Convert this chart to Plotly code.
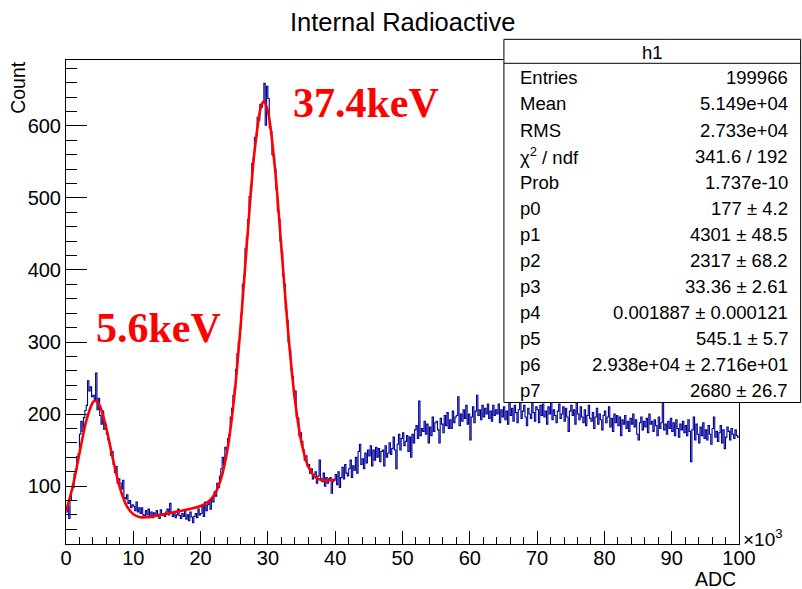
import plotly.graph_objects as go

# ---------------- data ----------------
bin_width = 200          # ADC per bin, 500 bins from 0 to 100000
x_min, x_max = 0, 100000

# histogram counts, 5 bins per 1000 ADC
counts = [
    64, 72, 55, 80, 94,      98, 117, 123, 141, 145,
    172, 190, 176, 195, 205, 212, 246, 232, 238, 224,
    226, 218, 257, 206, 222, 198, 186, 204, 179, 186,
    172, 164, 160, 143, 148, 130, 119, 127, 104, 110,
    104, 96, 108, 84, 82,    88, 76, 80, 70, 74,
    72, 66, 78, 64, 70,      62, 70, 60, 58, 66,
    60, 68, 57, 64, 56,      63, 58, 66, 61, 55,
    67, 60, 62, 58, 64,      68, 60, 76, 62, 58,
    64, 56, 60, 68, 59,      55, 62, 58, 66, 54,
    60, 52, 64, 57, 49,      58, 62, 56, 68, 60,
    62, 72, 58, 78, 66,      74, 80, 68, 84, 78,
    92, 86, 104, 98, 114,    124, 140, 130, 154, 150,
    166, 172, 196, 208, 226, 236, 262, 284, 300, 318,
    340, 380, 392, 430, 446, 470, 502, 516, 548, 555,
    584, 586, 612, 608, 630, 626, 632, 659, 601, 655,
    638, 597, 592, 560, 558, 540, 512, 482, 470, 440,
    424, 392, 380, 344, 330, 300, 288, 262, 252, 226,
    232, 196, 194, 170, 174, 162, 150, 136, 142, 128,
    130, 118, 124, 110, 116, 120, 104, 114, 136, 110,
    106, 118, 100, 112, 104, 110, 112, 90, 106, 108,
    116, 102, 120, 98, 112,  126, 110, 130, 118, 114,
    124, 136, 112, 128, 122, 140, 118, 148, 158, 130,
    138, 124, 146, 132, 150, 142, 156, 128, 150, 136,
    154, 140, 152, 134, 148, 150, 128, 156, 140, 146,
    160, 144, 152, 168, 150, 124, 158, 172, 150, 166,
    174, 156, 162, 170, 148, 168, 140, 172, 160, 178,
    184, 166, 218, 170, 180, 176, 190, 172, 186, 160,
    182, 170, 196, 176, 188, 190, 178, 160, 194, 186,
    174, 198, 184, 202, 180, 192, 180, 204, 188, 196,
    198, 224, 184, 200, 190, 206, 194, 212, 186, 200,
    164, 196, 210, 188, 204, 226, 198, 206, 192, 212,
    196, 208, 200, 214, 194, 204, 190, 212, 198, 206,
    200, 214, 188, 206, 196, 210, 192, 204, 186, 218,
    198, 208, 190, 212, 202, 188, 206, 216, 194, 204,
    212, 196, 184, 208, 200, 194, 216, 202, 190, 210,
    206, 188, 212, 198, 214, 196, 204, 186, 210, 200,
    216, 192, 206, 198, 188, 204, 214, 194, 200, 210,
    190, 208, 196, 176, 204, 212, 198, 206, 186, 216,
    200, 192, 210, 196, 188, 206, 184, 198, 212, 194,
    190, 202, 180, 196, 208, 186, 200, 192, 178, 198,
    204, 188, 196, 210, 182, 194, 176, 200, 188, 198,
    184, 196, 170, 192, 186, 198, 180, 190, 176, 194,
    186, 200, 182, 192, 172, 164, 188, 196, 178, 190,
    182, 194, 174, 200, 186, 190, 176, 192, 184, 170,
    196, 180, 188, 226, 178, 186, 172, 190, 180, 194,
    176, 188, 170, 192, 180, 168, 186, 178, 190, 174,
    184, 170, 192, 176, 134, 178, 196, 164, 186, 172,
    160, 182, 170, 188, 166, 178, 164, 184, 172, 158,
    180, 196, 168, 176, 162, 174, 184, 160, 178, 152,
    168, 182, 176, 164, 180, 172, 166, 178, 170, 168,
]

# fit curve samples (red line), read at these ADC values
fit_x = [0, 1000, 2000, 3000, 4000, 4300, 5000, 6000, 7000, 8000, 9000,
         10000, 11000, 12000, 13000, 14000, 15000, 16000, 17000, 18000, 19000,
         20000, 21000, 22000, 23000, 24000, 25000, 26000, 27000, 28000, 29000,
         29400, 30000, 31000, 32000, 33000, 34000, 35000, 36000, 37000, 38000,
         39000, 40000]
fit_y = [65.0, 99.4, 145.2, 190.2, 216.4, 218.5, 211.9, 180.0, 136.4, 98.0, 72.9,
         60.8, 56.8, 56.7, 58.0, 59.8, 61.7, 63.6, 65.5, 67.4, 69.5,
         72.3, 77.1, 87.2, 108.9, 151.4, 223.9, 328.5, 451.8, 563.7, 627.7,
         633.9, 620.7, 546.0, 431.7, 314.5, 220.9, 159.9, 127.1, 112.8, 108.2,
         107.8, 109.05]

x_tick_vals = [0, 10000, 20000, 30000, 40000, 50000, 60000, 70000, 80000, 90000, 100000]
x_tick_text = ["0", "10", "20", "30", "40", "50", "60", "70", "80", "90", "100"]
y_tick_vals = [100, 200, 300, 400, 500, 600]
y_range = [19.6, 691.5]

stat_title = "h1"
stat_labels = ["Entries", "Mean", "RMS", "χ<sup>2</sup> / ndf", "Prob", "p0", "p1", "p2",
               "p3", "p4", "p5", "p6", "p7"]
stat_values = ["199966", "5.149e+04", "2.733e+04", "341.6 / 192", "1.737e-10",
               "177 ± 4.2", "4301 ± 48.5", "2317 ± 68.2", "33.36 ± 2.61",
               "0.001887 ± 0.000121", "545.1 ± 5.7", "2.938e+04 ± 2.716e+01",
               "2680 ± 26.7"]

title_text = "Internal Radioactive"
x_title = "ADC"
y_title = "Count"
peak_labels = ["37.4keV", "5.6keV"]

# ---------------- layout geometry (pixels) ----------------
W, H = 802, 589
L, T, R, B = 65.7, 60.0, 739.3, 544.3


def px(x):
    return (x - L) / (R - L)


def py(y):
    return (B - y) / (B - T)


FONT = "Liberation Sans, Arial, Helvetica, sans-serif"

edges = [x_min + i * bin_width for i in range(len(counts) + 1)]
steps = counts + [counts[-1]]

fig = go.Figure()
fig.add_trace(go.Scatter(x=edges, y=steps, mode="lines",
                         line=dict(color="#000099", width=1.1, shape="hv"),
                         hoverinfo="skip", showlegend=False))
fig.add_trace(go.Scatter(x=fit_x, y=fit_y, mode="lines",
                         line=dict(color="#ff0000", width=2.6, shape="spline", smoothing=0.8),
                         hoverinfo="skip", showlegend=False))

fig.update_layout(
    width=W, height=H,
    margin=dict(l=L, r=W - R, t=T, b=H - B, pad=0),
    paper_bgcolor="white", plot_bgcolor="white",
    font=dict(family=FONT, color="black"),
    showlegend=False,
)
fig.update_xaxes(
    range=[x_min, x_max], tickmode="array", tickvals=x_tick_vals, ticktext=x_tick_text,
    ticks="inside", ticklen=13, tickwidth=1, tickcolor="black",
    showline=True, linecolor="black", linewidth=1, mirror=True, ticklabelstandoff=-4,
    showgrid=False, zeroline=False, tickfont=dict(size=20, color="black", family=FONT),
    minor=dict(tick0=0, dtick=2000, ticks="inside", ticklen=7, tickcolor="black", showgrid=False),
)
fig.update_yaxes(
    range=y_range, tickmode="array", tickvals=y_tick_vals,
    ticks="inside", ticklen=21, tickwidth=1, tickcolor="black",
    showline=True, linecolor="black", linewidth=1, mirror=True,
    showgrid=False, zeroline=False, tickfont=dict(size=20, color="black", family=FONT),
    minor=dict(tick0=0, dtick=20, ticks="inside", ticklen=11, tickcolor="black", showgrid=False),
)

ann = []
ann.append(dict(text=title_text, x=px(402.5), y=py(22), xref="paper", yref="paper",
                xanchor="center", yanchor="middle", showarrow=False,
                font=dict(size=25.5, family=FONT, color="black")))
ann.append(dict(text=y_title, x=px(18), y=py(87.5), xref="paper", yref="paper",
                xanchor="center", yanchor="middle", textangle=-90, showarrow=False,
                font=dict(size=19.5, family=FONT, color="black")))
ann.append(dict(text=x_title, x=px(738.5), y=py(579), xref="paper", yref="paper",
                xanchor="right", yanchor="middle", showarrow=False,
                font=dict(size=19.5, family=FONT, color="black")))
ann.append(dict(text="×10<sup>3</sup>", x=px(741), y=py(538), xref="paper", yref="paper",
                xanchor="left", yanchor="middle", showarrow=False,
                font=dict(size=19, family=FONT, color="black")))
ann.append(dict(text="<b>%s</b>" % peak_labels[0], x=px(291), y=py(103), xref="paper", yref="paper",
                xanchor="left", yanchor="middle", showarrow=False,
                font=dict(size=42, family="Liberation Serif, Times New Roman, serif", color="#ff0000")))
ann.append(dict(text="<b>%s</b>" % peak_labels[1], x=px(94), y=py(328), xref="paper", yref="paper",
                xanchor="left", yanchor="middle", showarrow=False,
                font=dict(size=42, family="Liberation Serif, Times New Roman, serif", color="#ff0000")))

# stats box
bx0, bx1, by0, by1, hdr = 504, 801, 39.3, 402.7, 63.3
shapes = [
    dict(type="rect", xref="paper", yref="paper", x0=px(bx0), x1=px(bx1), y0=py(by1), y1=py(by0),
         fillcolor="white", line=dict(color="black", width=1), layer="above"),
    dict(type="line", xref="paper", yref="paper", x0=px(bx0), x1=px(bx1), y0=py(hdr), y1=py(hdr),
         line=dict(color="black", width=1), layer="above"),
]
ann.append(dict(text=stat_title, x=px((bx0 + bx1) / 2), y=py(52), xref="paper", yref="paper",
                xanchor="center", yanchor="middle", showarrow=False,
                font=dict(size=18.5, family=FONT, color="black")))
row_h = (by1 - hdr) / len(stat_labels)
for i, (lab, val) in enumerate(zip(stat_labels, stat_values)):
    yc = hdr + 1.5 + row_h * (i + 0.5)
    ann.append(dict(text=lab, x=px(518), y=py(yc), xref="paper", yref="paper",
                    xanchor="left", yanchor="middle", showarrow=False,
                    font=dict(size=18.5, family=FONT, color="black")))
    ann.append(dict(text=val, x=px(790), y=py(yc), xref="paper", yref="paper",
                    xanchor="right", yanchor="middle", showarrow=False,
                    font=dict(size=18.5, family=FONT, color="black")))

fig.update_layout(annotations=ann, shapes=shapes)
fig.write_html("out.html")
